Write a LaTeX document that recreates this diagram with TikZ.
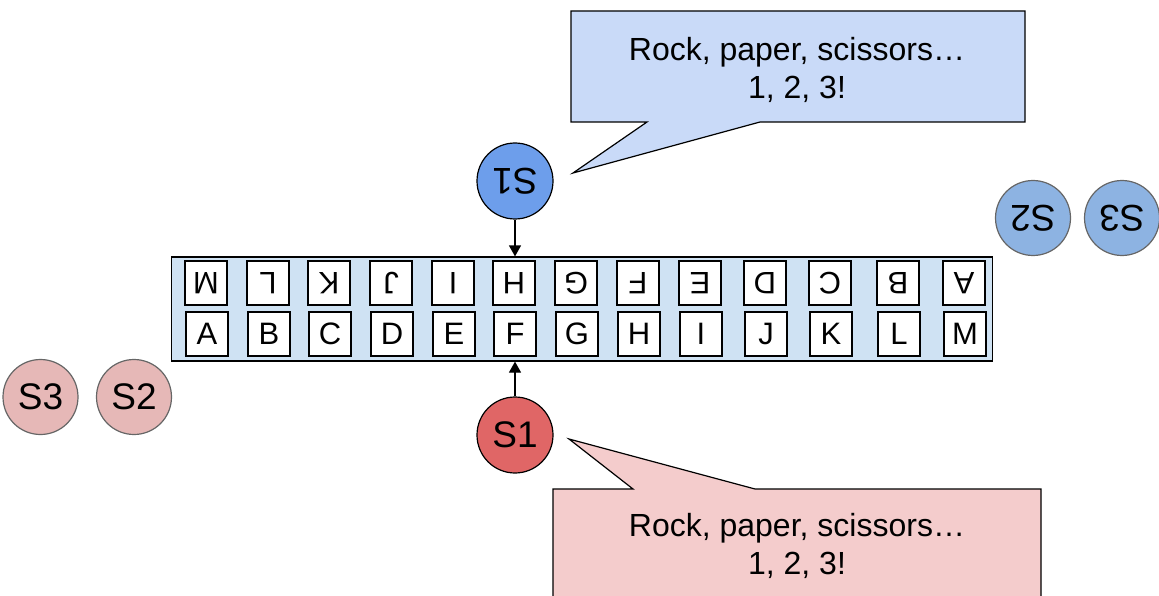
\documentclass[tikz,border=0pt]{standalone}
\usepackage{fontspec}
\setmainfont{Liberation Sans}
\usetikzlibrary{arrows.meta}
\definecolor{stripfill}{HTML}{CFE2F3}
\definecolor{bluecall}{HTML}{C9DAF8}
\definecolor{redcall}{HTML}{F4CCCC}
\definecolor{blueone}{HTML}{6D9EEB}
\definecolor{bluetwo}{HTML}{8DB3E2}
\definecolor{redone}{HTML}{E06666}
\definecolor{redtwo}{HTML}{E6B8B7}
\definecolor{greyline}{HTML}{666666}
\tikzset{
  strip/.style={draw=black, fill=stripfill, line width=1.2pt, minimum width=821pt, minimum height=104pt, inner sep=0pt},
  letterbox/.style={draw=black, fill=white, line width=1.2pt, minimum width=42pt, minimum height=44pt, inner sep=0pt, font=\fontsize{31}{34}\selectfont},
  mainseat/.style={circle, draw=black, line width=1.2pt, minimum size=76pt, inner sep=0pt, font=\fontsize{37}{40}\selectfont},
  sideseat/.style={circle, draw=greyline, line width=1.2pt, minimum size=75pt, inner sep=0pt, font=\fontsize{37}{40}\selectfont},
  callout/.style={draw=black, line width=1.2pt, line join=miter},
  calltext/.style={align=center, font=\fontsize{32}{38}\selectfont, inner sep=0pt},
  arr/.style={line width=1.2pt, -{Triangle[length=11pt,width=12pt]}}
}
\begin{document}
\begin{tikzpicture}[x=1pt,y=-1pt]
\useasboundingbox (0,0) rectangle (1159,596);
\clip (0,0) rectangle (1159,596);

% callouts
\draw[callout, fill=bluecall] (571,11) -- (1025,11) -- (1025,122) -- (760,122) -- (573,173) -- (647,122) -- (571,122) -- cycle;
\node[calltext] (bluetext) at (797,70) {Rock, paper, scissors…\\1, 2, 3!};
\draw[callout, fill=redcall] (553,489) -- (633,489) -- (569,439) -- (755,489) -- (1041,489) -- (1041,640) -- (553,640) -- cycle;
\node[calltext] (redtext) at (797,546) {Rock, paper, scissors…\\1, 2, 3!};

% strip
\node[strip] (strip) at (582,309) {};
\foreach \x/\t/\b [count=\i] in {207/M/A,269/L/B,330/K/C,392/J/D,454/I/E,515/H/F,577/G/G,639/F/H,701/E/I,766/D/J,831/C/K,899/B/L,965/A/M}{
  \node[letterbox, rotate=180] (top\i) at (\x-1,283) {\t};
  \node[letterbox] (bot\i) at (\x,334) {\b};
}

% seats
\node[mainseat, fill=blueone, rotate=180] (bS1) at (515,181) {S1};
\node[sideseat, fill=bluetwo, rotate=180] (bS2) at (1033,218) {S2};
\node[sideseat, fill=bluetwo, rotate=180] (bS3) at (1122,218) {S3};
\node[mainseat, fill=redone] (rS1) at (515,435) {S1};
\node[sideseat, fill=redtwo] (rS2) at (134,397) {S2};
\node[sideseat, fill=redtwo] (rS3) at (40.5,397) {S3};

% arrows
\draw[arr] (bS1) -- (bS1 |- strip.north);
\draw[arr] (rS1) -- (rS1 |- strip.south);
\end{tikzpicture}
\end{document}
